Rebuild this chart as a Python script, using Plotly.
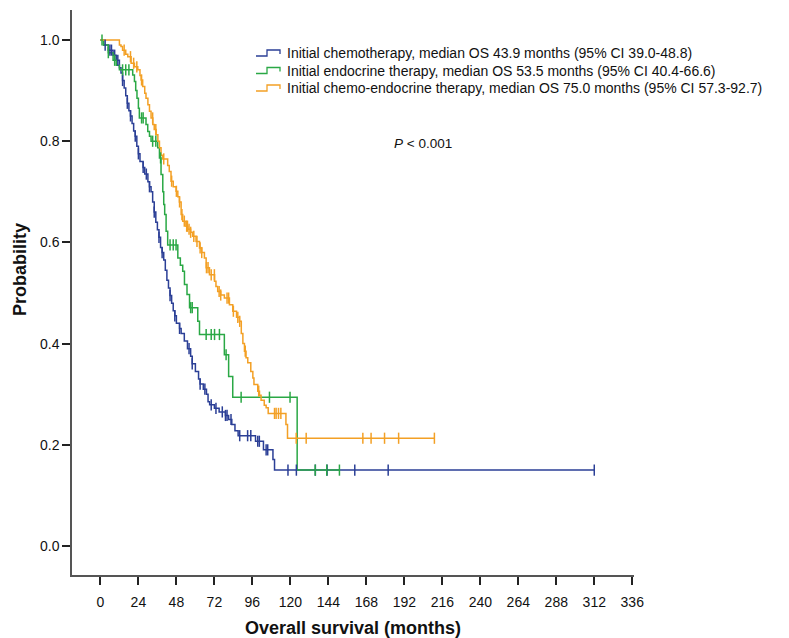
import numpy as np
import plotly.graph_objects as go

# ---------------- data ----------------
x_ticks = [0, 24, 48, 72, 96, 120, 144, 168, 192, 216, 240, 264, 288, 312, 336]
y_ticks = [0.0, 0.2, 0.4, 0.6, 0.8, 1.0]

series_names = [
    "Initial chemotherapy, median OS 43.9 months (95% CI 39.0-48.8)",
    "Initial endocrine therapy, median OS 53.5 months (95% CI 40.4-66.6)",
    "Initial chemo-endocrine therapy, median OS 75.0 months (95% CI 57.3-92.7)",
]

# Chemotherapy
chemo_t = [0, 2, 5, 8, 10, 12, 13, 14, 15, 16, 17, 18, 19, 20, 21, 22, 23, 24, 25, 27, 28, 30, 31, 32,
           33, 34, 35, 36, 37, 38, 39, 40, 41, 42, 43, 44, 45, 46, 47, 48, 50, 51, 53, 55, 57, 58, 60,
           62, 63, 65, 67, 68, 69, 72, 75, 79, 81, 83, 85, 87, 98, 103, 109, 110]
chemo_s = [1.0, 0.99, 0.98, 0.97, 0.96, 0.945, 0.935, 0.92, 0.905, 0.89, 0.875, 0.86, 0.85, 0.835,
           0.82, 0.81, 0.79, 0.775, 0.76, 0.748, 0.735, 0.72, 0.71, 0.70, 0.68, 0.66, 0.64, 0.625,
           0.61, 0.59, 0.58, 0.565, 0.545, 0.525, 0.51, 0.495, 0.48, 0.465, 0.455, 0.44, 0.43, 0.42,
           0.405, 0.39, 0.375, 0.36, 0.345, 0.33, 0.32, 0.31, 0.30, 0.285, 0.279, 0.272, 0.265, 0.258,
           0.25, 0.24, 0.228, 0.218, 0.207, 0.19, 0.171, 0.15]
chemo_end = 312
chemo_cens = [3, 6, 7, 9, 11, 14, 17, 19, 22, 24, 27, 29, 31, 34, 37, 39, 44, 47, 50, 56, 58, 63,
              66, 70, 73, 77, 79, 80, 82.5, 88, 93, 95, 99.4, 100.4, 104.7, 105.7, 118.5, 123.8,
              135.8, 143.2, 160.7, 181.8, 312]

# Endocrine therapy
endo_t = [0, 2, 5, 8, 10, 12, 20.4, 21.5, 22.3, 23.1, 24, 24.6, 28.8, 29.9, 31, 32, 36.2, 37.3, 38.3,
          39.4, 40, 40.6, 41.5, 42.5, 48.9, 50.5, 52, 53.1, 54.7, 56.3, 61.5, 62.6, 78.3, 81, 83.6,
          124.3]
endo_s = [1.0, 0.99, 0.975, 0.96, 0.95, 0.941, 0.931, 0.918, 0.90, 0.885, 0.865, 0.846, 0.833,
          0.819, 0.81, 0.80, 0.787, 0.767, 0.734, 0.70, 0.675, 0.655, 0.622, 0.595, 0.569, 0.555,
          0.543, 0.517, 0.497, 0.471, 0.444, 0.418, 0.378, 0.335, 0.294, 0.15]
endo_end = 151
endo_cens = [1, 5, 9, 14, 16, 18, 26, 27, 33, 35, 38, 44, 46, 47.8, 57, 58, 66.8, 70, 72.1, 75.2,
             79.4, 88.9, 106.8, 119.8, 135.7, 143, 151]

# Chemo-endocrine therapy
ce_t = [0, 12, 13, 14, 16, 17.3, 19.4, 21.5, 23.6, 25, 25.7, 26.7, 28, 28.8, 30, 31, 32, 33.1, 34,
        35.2, 36.3, 37.3, 38.3, 39.4, 42.5, 43.5, 44.6, 46, 47.8, 48.9, 49.9, 51, 52, 54, 55.2, 57,
        58.3, 60.4, 62.6, 64, 65.7, 66.8, 68.9, 72.1, 73, 74.1, 76, 78.3, 81.5, 83.6, 86, 87.8, 89,
        90, 91, 92, 93.1, 95, 96.3, 97, 99.4, 100.5, 101.5, 103.5, 104.7, 106, 117.2, 118.2]
ce_s = [1.0, 0.99, 0.987, 0.98, 0.972, 0.967, 0.954, 0.947, 0.941, 0.93, 0.921, 0.908, 0.895, 0.885,
        0.872, 0.859, 0.846, 0.833, 0.823, 0.813, 0.80, 0.787, 0.772, 0.765, 0.752, 0.74, 0.721,
        0.71, 0.701, 0.69, 0.68, 0.655, 0.642, 0.632, 0.626, 0.62, 0.612, 0.602, 0.589, 0.58, 0.569,
        0.55, 0.536, 0.523, 0.513, 0.503, 0.496, 0.49, 0.477, 0.464, 0.452, 0.444, 0.42, 0.40,
        0.385, 0.372, 0.362, 0.345, 0.332, 0.319, 0.306, 0.298, 0.288, 0.278, 0.273, 0.262, 0.24,
        0.213]
ce_end = 211
ce_cens = [15, 19, 21, 23, 26, 33, 35, 40, 45, 48, 50, 51.5, 53, 54.5, 55, 56, 57, 59, 61, 63, 64,
           67, 68, 70, 72, 75, 76, 80, 81, 84, 86.8, 88, 91.5, 100, 110, 111, 112.5, 114, 123.7, 130,
           165.8, 171, 179.5, 188.4, 211]

colors = ["#2b3f96", "#2aa845", "#f3a025"]

W, H = 789, 638
ML, MR, MT, MB = 64, 163, 2, 71
PW, PH = W - ML - MR, H - MT - MB


def px2paper(px, py):
    return (px - ML) / PW, (H - MB - py) / PH


def step_value(ts, ss, t):
    idx = np.searchsorted(np.asarray(ts), t, side="right") - 1
    return np.asarray(ss)[idx]


fig = go.Figure()
groups = [
    (chemo_t, chemo_s, chemo_end, chemo_cens),
    (endo_t, endo_s, endo_end, endo_cens),
    (ce_t, ce_s, ce_end, ce_cens),
]
for i, (ts, ss, tend, cens) in enumerate(groups):
    xs = list(ts) + [tend]
    ys = list(ss) + [ss[-1]]
    fig.add_trace(go.Scatter(x=xs, y=ys, mode="lines", line=dict(color=colors[i], width=1.5, shape="hv"),
                             name=series_names[i], showlegend=False))
for i, (ts, ss, tend, cens) in enumerate(groups):
    cy = [float(step_value(ts, ss, c)) for c in cens]
    fig.add_trace(go.Scatter(x=cens, y=cy, mode="markers",
                             marker=dict(symbol="line-ns", size=8, line=dict(color=colors[i], width=1.5)),
                             showlegend=False, hoverinfo="skip"))

# legend (text + small step icons)
leg_y = [45, 62.5, 80]
for i, name in enumerate(series_names):
    tx, ty = px2paper(277, leg_y[i])
    fig.add_annotation(x=tx, y=ty, xref="paper", yref="paper", text=name, showarrow=False,
                       xanchor="left", yanchor="middle",
                       font=dict(family="Liberation Sans, Arial", size=14, color="#111"))
    p = [px2paper(x, leg_y[i] + dy) for x, dy in [(248, 3), (259, 3), (259, -3), (272, -3), (272, 1)]]
    path = "M {} {} L {} {} L {} {} L {} {} L {} {}".format(*[v for pt in p for v in pt])
    fig.add_shape(type="path", path=path, xref="paper", yref="paper",
                  line=dict(color=colors[i], width=1.3))

fig.add_annotation(x=203.7, y=0.796, xref="x", yref="y", text="<i>P</i> < 0.001", showarrow=False,
                   font=dict(family="Liberation Sans, Arial", size=13.5, color="#111"))

# y-axis title (placed slightly above the plot centre as in the reference)
ytx, yty = px2paper(12, 262)
fig.add_annotation(x=ytx, y=yty, xref="paper", yref="paper", text="<b>Probability</b>", showarrow=False,
                   textangle=-90, xanchor="center", yanchor="middle",
                   font=dict(family="Liberation Sans, Arial", size=18, color="#111"))

fig.update_layout(
    width=W, height=H,
    paper_bgcolor="white", plot_bgcolor="white",
    margin=dict(l=ML, r=MR, t=MT, b=MB),
    font=dict(family="Liberation Sans, Arial", color="#111"),
    showlegend=False,
    xaxis=dict(range=[-17.95, 337.1], tickvals=x_ticks, ticktext=[str(v) for v in x_ticks],
               showgrid=False, zeroline=False, showline=True, linecolor="#555", linewidth=1.5,
               ticks="outside", ticklen=8, tickwidth=2, tickcolor="#222", ticklabelstandoff=5,
               tickfont=dict(size=14, color="#111"),
               title=dict(text="<b>Overall survival (months)</b>", font=dict(size=18, color="#111"), standoff=13)),
    yaxis=dict(range=[-0.0573, 1.0593], tickvals=y_ticks, ticktext=["0.0", "0.2", "0.4", "0.6", "0.8", "1.0"],
               showgrid=False, zeroline=False, showline=True, linecolor="#555", linewidth=1.5,
               ticks="outside", ticklen=8, tickwidth=1.5, tickcolor="#222",
               tickfont=dict(size=14, color="#111")),
)

fig.write_html("out.html")
